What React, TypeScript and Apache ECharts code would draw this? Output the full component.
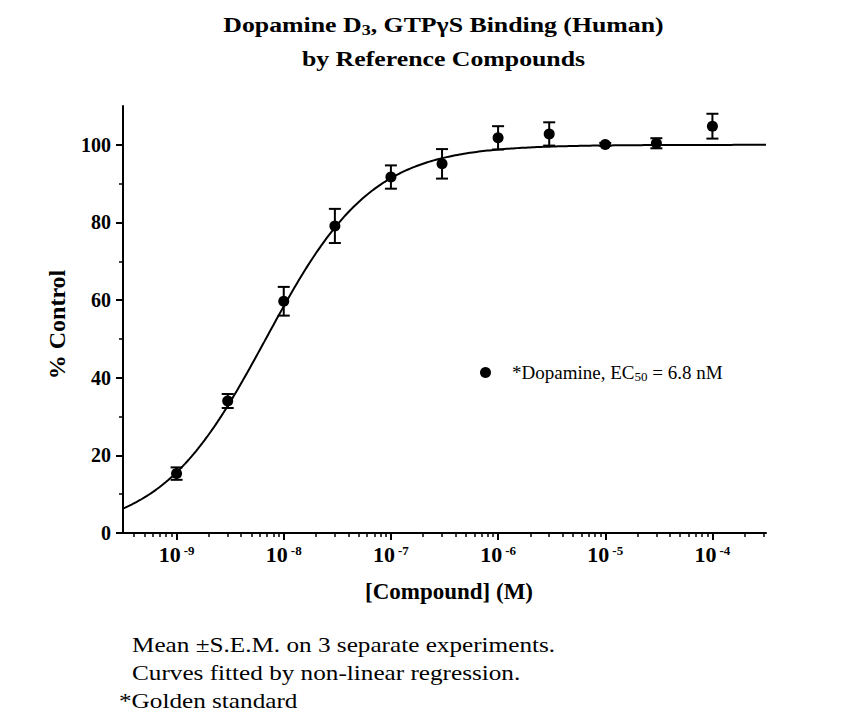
import { useEffect, useRef } from "react";
import * as echarts from "echarts";

// Dopamine D3 GTPγS binding: mean ± S.E.M. per concentration (M)
const concentrationsM = [1e-9, 3e-9, 1e-8, 3e-8, 1e-7, 3e-7, 1e-6, 3e-6, 1e-5, 3e-5, 1e-4];
const meanControl = [15.3, 34.0, 59.7, 79.1, 91.7, 95.1, 101.8, 102.8, 100.1, 100.4, 104.8];
const semControl = [1.6, 1.8, 3.7, 4.4, 3.0, 3.8, 3.0, 3.0, 0.4, 1.3, 3.2];

// Four-parameter logistic fit (EC50 = 6.8 nM)
const fitBottom = 0;
const fitTop = 100;
const fitEC50 = 6.8e-9;
const fitHillSlope = 0.88;

// Axis extents and ticks
const xLogMin = -9.5;
const xLogMax = -3.5;
const decadeExponents = [-9, -8, -7, -6, -5, -4];
const yMin = 0;
const yMax = 110;
const yMajorTicks = [0, 20, 40, 60, 80, 100];
const yMinorTicks = [10, 30, 50, 70, 90];

const titleLine1 = "{t|Dopamine D}{sub|3}{t|, GTPγS Binding (Human)}";
const titleLine2 = "by Reference Compounds";
const footnotes = [
  "Mean ±S.E.M. on 3 separate experiments.",
  "Curves fitted by non-linear regression.",
  "*Golden standard",
];

const SERIF = "Liberation Serif";

function minorLogTicks(): number[] {
  const out: number[] = [];
  for (let d = -10; d <= -4; d++) {
    for (let m = 2; m <= 9; m++) {
      const v = Math.log10(m) + d;
      if (v >= xLogMin && v <= xLogMax) out.push(v);
    }
  }
  return out;
}

function fitCurve(): number[][] {
  const pts: number[][] = [];
  const n = 300;
  for (let i = 0; i <= n; i++) {
    const lx = xLogMin + ((xLogMax - xLogMin) * i) / n;
    const y =
      fitBottom +
      (fitTop - fitBottom) / (1 + Math.pow(fitEC50 / Math.pow(10, lx), fitHillSlope));
    pts.push([lx, y]);
  }
  return pts;
}

export default function App() {
  const ref = useRef<HTMLDivElement>(null);

  useEffect(() => {
    if (!ref.current) return;
    const chart = echarts.init(ref.current, null, { renderer: "svg" });

    const points = concentrationsM.map((c, i) => [Math.log10(c), meanControl[i]]);
    const bars = concentrationsM.map((c, i) => [
      Math.log10(c),
      meanControl[i] - semControl[i],
      meanControl[i] + semControl[i],
    ]);

    const black = "#000";
    const footnote = (text: string, x: number, y: number) => ({
      type: "text",
      x,
      y,
      scaleX: 1.2,
      style: {
        text,
        verticalAlign: "middle",
        fontFamily: SERIF,
        fontSize: 21,
        fill: black,
      },
    });

    const option: any = {
      animation: false,
      backgroundColor: "#fff",
      textStyle: { fontFamily: SERIF, color: black },
      grid: { left: 123, right: 76, top: 106, bottom: 190, containLabel: false },
      legend: {
        data: [{ name: "Dopamine", icon: "circle" }],
        left: 475,
        top: 358,
        itemWidth: 11,
        itemHeight: 11,
        selectedMode: false,
        formatter: () => "{t|*Dopamine, EC}{sub|50}{t| = 6.8 nM}",
        textStyle: {
          padding: [0, 0, 0, 16],
          rich: {
            t: { fontFamily: SERIF, fontSize: 19, lineHeight: 21, color: black },
            sub: {
              fontFamily: SERIF,
              fontSize: 13,
              lineHeight: 12,
              verticalAlign: "bottom",
              color: black,
            },
          },
        },
      },
      xAxis: [
        {
          type: "value",
          position: "bottom",
          min: xLogMin,
          max: xLogMax,
          name: "[Compound] (M)",
          nameLocation: "middle",
          nameGap: 47,
          nameTextStyle: {
            fontFamily: SERIF,
            fontWeight: "bold",
            fontSize: 23,
            color: black,
            padding: [0, 0, 0, 9],
          },
          axisLine: { lineStyle: { color: black, width: 2 } },
          axisTick: {
            customValues: decadeExponents,
            length: 7,
            lineStyle: { color: black, width: 2 },
          },
          axisLabel: {
            customValues: decadeExponents,
            margin: 10,
            formatter: (v: number) => `{b|10}{s|${Math.round(v)}}`,
            rich: {
              b: {
                fontFamily: SERIF,
                fontWeight: "bold",
                fontSize: 22,
                lineHeight: 22,
                color: black,
              },
              s: {
                fontFamily: SERIF,
                fontWeight: "bold",
                fontSize: 13,
                lineHeight: 13,
                padding: [0, 0, 7, 3],
                color: black,
              },
            },
          },
          splitLine: { show: false },
        },
        {
          type: "value",
          position: "bottom",
          min: xLogMin,
          max: xLogMax,
          axisLine: { show: false },
          axisTick: {
            customValues: minorLogTicks(),
            length: 4,
            lineStyle: { color: black, width: 1.5 },
          },
          axisLabel: { show: false },
          splitLine: { show: false },
        },
      ],
      yAxis: [
        {
          type: "value",
          position: "left",
          min: yMin,
          max: yMax,
          name: "% Control",
          nameLocation: "middle",
          nameGap: 54,
          nameTextStyle: {
            fontFamily: SERIF,
            fontWeight: "bold",
            fontSize: 24,
            color: black,
            padding: [0, 10, 0, 0],
          },
          axisLine: { lineStyle: { color: black, width: 2 } },
          axisTick: {
            customValues: yMajorTicks,
            length: 7,
            lineStyle: { color: black, width: 2 },
          },
          axisLabel: {
            customValues: yMajorTicks,
            margin: 12,
            fontFamily: SERIF,
            fontWeight: "bold",
            fontSize: 20,
            color: black,
          },
          splitLine: { show: false },
        },
        {
          type: "value",
          position: "left",
          min: yMin,
          max: yMax,
          axisLine: { show: false },
          axisTick: {
            customValues: yMinorTicks,
            length: 4,
            lineStyle: { color: black, width: 1.5 },
          },
          axisLabel: { show: false },
          splitLine: { show: false },
        },
      ],
      series: [
        {
          name: "fit",
          type: "line",
          xAxisIndex: 0,
          yAxisIndex: 0,
          data: fitCurve(),
          showSymbol: false,
          symbol: "none",
          silent: true,
          lineStyle: { color: black, width: 2 },
          z: 2,
        },
        {
          name: "sem",
          type: "custom",
          xAxisIndex: 0,
          yAxisIndex: 0,
          data: bars,
          encode: { x: 0, y: [1, 2] },
          silent: true,
          z: 3,
          renderItem: (_params: any, api: any) => {
            const x = api.value(0);
            const lo = api.coord([x, api.value(1)]);
            const hi = api.coord([x, api.value(2)]);
            const hw = 6;
            const style = { stroke: black, lineWidth: 2 };
            return {
              type: "group",
              children: [
                { type: "line", shape: { x1: lo[0], y1: lo[1], x2: hi[0], y2: hi[1] }, style },
                { type: "line", shape: { x1: hi[0] - hw, y1: hi[1], x2: hi[0] + hw, y2: hi[1] }, style },
                { type: "line", shape: { x1: lo[0] - hw, y1: lo[1], x2: lo[0] + hw, y2: lo[1] }, style },
              ],
            };
          },
        },
        {
          name: "Dopamine",
          type: "scatter",
          xAxisIndex: 0,
          yAxisIndex: 0,
          data: points,
          symbol: "circle",
          symbolSize: 11,
          itemStyle: { color: black, opacity: 1 },
          z: 4,
        },
      ],
      graphic: [
        {
          type: "text",
          x: 443.5,
          y: 25,
          scaleX: 1.2,
          style: {
            text: titleLine1,
            align: "center",
            verticalAlign: "middle",
            fontFamily: SERIF,
            fontWeight: "bold",
            fontSize: 21.5,
            fill: black,
            rich: {
              t: {
                fontFamily: SERIF,
                fontWeight: "bold",
                fontSize: 21.5,
                lineHeight: 26,
                fill: black,
              },
              sub: {
                fontFamily: SERIF,
                fontWeight: "bold",
                fontSize: 15,
                lineHeight: 12,
                verticalAlign: "bottom",
                fill: black,
              },
            },
          },
        },
        {
          type: "text",
          x: 443.5,
          y: 58.5,
          scaleX: 1.2,
          style: {
            text: titleLine2,
            align: "center",
            verticalAlign: "middle",
            fontFamily: SERIF,
            fontWeight: "bold",
            fontSize: 21.5,
            fill: black,
          },
        },
        footnote(footnotes[0], 132, 644.5),
        footnote(footnotes[1], 132, 673),
        footnote(footnotes[2], 119, 701),
      ],
    };

    chart.setOption(option);
    return () => chart.dispose();
  }, []);

  return (
    <div
      ref={ref}
      style={{ position: "absolute", left: 0, top: 0, width: 842, height: 723, background: "#fff" }}
    />
  );
}
